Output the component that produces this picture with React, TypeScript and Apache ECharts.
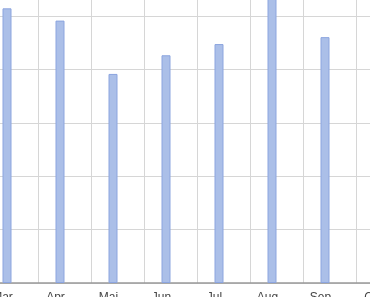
import React, { useEffect, useRef } from "react";
import * as echarts from "echarts";

// Monthly values (German short month names)
const months = ["Jan", "Feb", "Mar", "Apr", "Mai", "Jun", "Jul", "Aug", "Sep", "Okt", "Nov", "Dez"];
const currentYear = [47, 44, 51.5, 49.2, 39.2, 42.7, 44.8, 55, 46.1, 43, 40, 45];
const previousYear: (number | null)[] = months.map(() => null);

const yMax = 60;
const yStep = 10;

export default function App() {
  const ref = useRef<HTMLDivElement>(null);

  useEffect(() => {
    if (!ref.current) return;
    const chart = echarts.init(ref.current, undefined, { renderer: "svg" });
    chart.setOption({
      animation: false,
      grid: {
        left: 0,
        right: 0,
        top: 0,
        bottom: 14,
        containLabel: false,
        outerBoundsMode: "none",
      },
      xAxis: {
        type: "category",
        data: months,
        boundaryGap: true,
        axisLine: { show: true, lineStyle: { color: "#999999", width: 1.5 } },
        axisTick: { show: false },
        axisLabel: {
          interval: 0,
          margin: 8,
          fontSize: 12,
          color: "#444",
          fontFamily: "Liberation Sans, Arial, sans-serif",
          padding: [0, 18, 0, 0],
        },
        splitLine: { show: true, interval: 0, lineStyle: { color: "#d6d6d6", width: 1 } },
      },
      yAxis: {
        type: "value",
        min: 0,
        max: yMax,
        interval: yStep,
        axisLine: { show: false },
        axisTick: { show: false },
        axisLabel: { show: false },
        splitLine: { show: true, lineStyle: { color: "#d6d6d6", width: 1 } },
      },
      series: [
        {
          name: "2024",
          type: "bar",
          data: currentYear,
          barWidth: 9,
          barGap: "0%",
          itemStyle: { color: "#abbfe8", borderColor: "#8ca5df", borderWidth: 1 },
        },
        {
          name: "2023",
          type: "bar",
          data: previousYear,
          barWidth: 9,
          barGap: "0%",
          itemStyle: { color: "#e8b4ab" },
        },
      ],
    });
    return () => chart.dispose();
  }, []);

  return (
    <div style={{ position: "fixed", left: 0, top: 0, width: 370, height: 297, overflow: "hidden" }}>
      <div
        ref={ref}
        style={{ position: "absolute", left: -121, top: -37, width: 636, height: 334 }}
      />
    </div>
  );
}
